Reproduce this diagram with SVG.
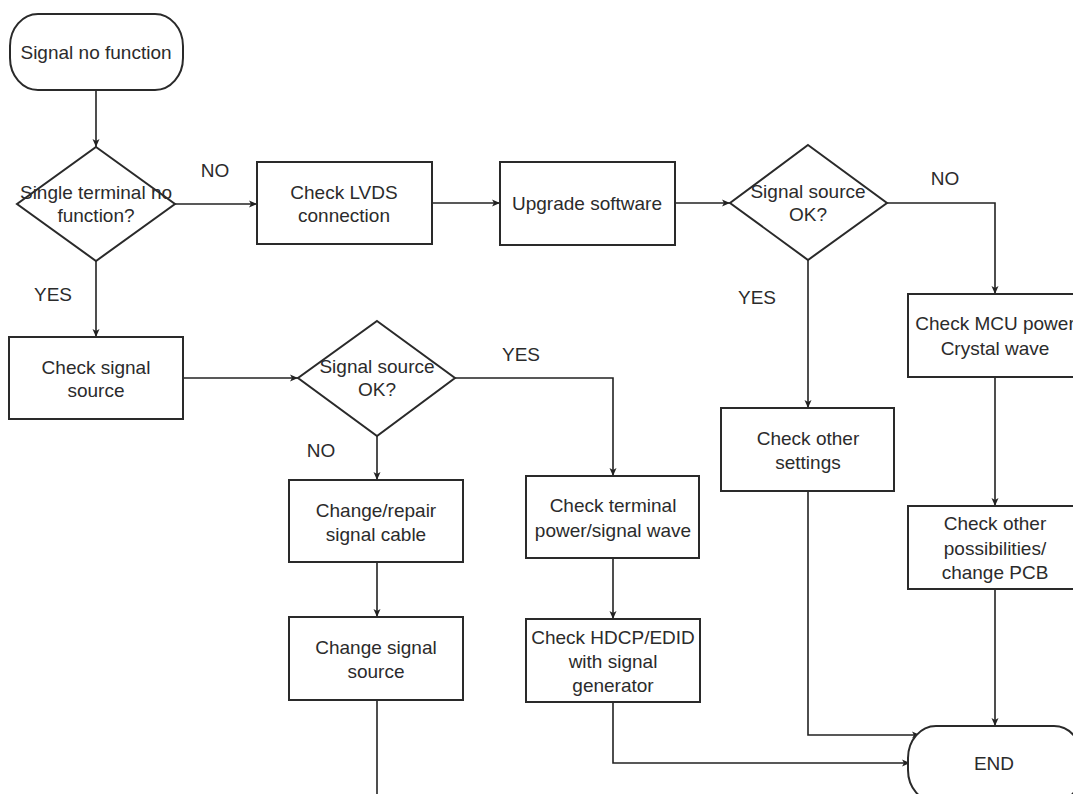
<svg xmlns="http://www.w3.org/2000/svg" width="1073" height="794" viewBox="0 0 1073 794">
<style>
.n{fill:#fff;stroke:#2a2a2a;stroke-width:2}
.t{font-family:"Liberation Sans",Arial,sans-serif;font-size:19px;fill:#2b2b2b;text-anchor:middle}
.c{fill:none;stroke:#222;stroke-width:1.6}
</style>
<defs>
<marker id="a" markerWidth="10" markerHeight="10" refX="8" refY="4" orient="auto" markerUnits="userSpaceOnUse">
<path d="M0,0.5 L8,4 L0,7.5 L2,4 Z" fill="#222"/>
</marker>
</defs>
<rect width="1073" height="794" fill="#fff"/>
<g id="connectors">
<path class="c" d="M96,90 V147" marker-end="url(#a)"/>
<path class="c" d="M175,204 H257" marker-end="url(#a)"/>
<path class="c" d="M432,203 H500" marker-end="url(#a)"/>
<path class="c" d="M675,203 H730" marker-end="url(#a)"/>
<path class="c" d="M887,203 H995 V294" marker-end="url(#a)"/>
<path class="c" d="M808,260 V408" marker-end="url(#a)"/>
<path class="c" d="M995,377 V506" marker-end="url(#a)"/>
<path class="c" d="M995,589 V726" marker-end="url(#a)"/>
<path class="c" d="M808,491 V735 H920" marker-end="url(#a)"/>
<path class="c" d="M96,261 V337" marker-end="url(#a)"/>
<path class="c" d="M183,378 H298" marker-end="url(#a)"/>
<path class="c" d="M455,378 H613 V476" marker-end="url(#a)"/>
<path class="c" d="M377,436 V480" marker-end="url(#a)"/>
<path class="c" d="M377,562 V617" marker-end="url(#a)"/>
<path class="c" d="M377,700 V794"/>
<path class="c" d="M613,558 V619" marker-end="url(#a)"/>
<path class="c" d="M613,702 V763 H910" marker-end="url(#a)"/>
<text class="t" x="215" y="177">NO</text>
<text class="t" x="53" y="301">YES</text>
<text class="t" x="945" y="185">NO</text>
<text class="t" x="757" y="304">YES</text>
<text class="t" x="521" y="361">YES</text>
<text class="t" x="321" y="457">NO</text>
</g>
<g id="start">
<rect class="n" x="10" y="14" width="173" height="76" rx="28" ry="32"/>
<text class="t" x="96" y="59">Signal no function</text>
</g>
<g id="d1">
<polygon class="n" points="96,147 175,204 96,261 17,204"/>
<text class="t" x="96" y="199">Single terminal no</text>
<text class="t" x="96" y="222">function?</text>
</g>
<g id="lvds">
<rect class="n" x="257" y="162" width="175" height="82"/>
<text class="t" x="344" y="199">Check LVDS</text>
<text class="t" x="344" y="222">connection</text>
</g>
<g id="upgrade">
<rect class="n" x="500" y="162" width="175" height="83"/>
<text class="t" x="587" y="210">Upgrade software</text>
</g>
<g id="d2">
<polygon class="n" points="808,145 887,203 808,260 730,203"/>
<text class="t" x="808" y="198">Signal source</text>
<text class="t" x="808" y="221">OK?</text>
</g>
<g id="mcu">
<rect class="n" x="908" y="294" width="174" height="83"/>
<text class="t" x="995" y="330">Check MCU power</text>
<text class="t" x="995" y="355">Crystal wave</text>
</g>
<g id="settings">
<rect class="n" x="721" y="408" width="173" height="83"/>
<text class="t" x="808" y="445">Check other</text>
<text class="t" x="808" y="469">settings</text>
</g>
<g id="possibilities">
<rect class="n" x="908" y="506" width="174" height="83"/>
<text class="t" x="995" y="530">Check other</text>
<text class="t" x="995" y="555">possibilities/</text>
<text class="t" x="995" y="579">change PCB</text>
</g>
<g id="end">
<rect class="n" x="908" y="726" width="174" height="76" rx="28" ry="32"/>
<text class="t" x="994" y="770">END</text>
</g>
<g id="checksource">
<rect class="n" x="9" y="337" width="174" height="82"/>
<text class="t" x="96" y="374">Check signal</text>
<text class="t" x="96" y="397">source</text>
</g>
<g id="d3">
<polygon class="n" points="377,321 455,378 377,436 298,378"/>
<text class="t" x="377" y="373">Signal source</text>
<text class="t" x="377" y="396">OK?</text>
</g>
<g id="cable">
<rect class="n" x="289" y="480" width="174" height="82"/>
<text class="t" x="376" y="517">Change/repair</text>
<text class="t" x="376" y="541">signal cable</text>
</g>
<g id="changesource">
<rect class="n" x="289" y="617" width="174" height="83"/>
<text class="t" x="376" y="654">Change signal</text>
<text class="t" x="376" y="678">source</text>
</g>
<g id="terminal">
<rect class="n" x="526" y="476" width="173" height="82"/>
<text class="t" x="613" y="512">Check terminal</text>
<text class="t" x="613" y="537">power/signal wave</text>
</g>
<g id="hdcp">
<rect class="n" x="526" y="619" width="174" height="83"/>
<text class="t" x="613" y="644">Check HDCP/EDID</text>
<text class="t" x="613" y="668">with signal</text>
<text class="t" x="613" y="692">generator</text>
</g>
</svg>
